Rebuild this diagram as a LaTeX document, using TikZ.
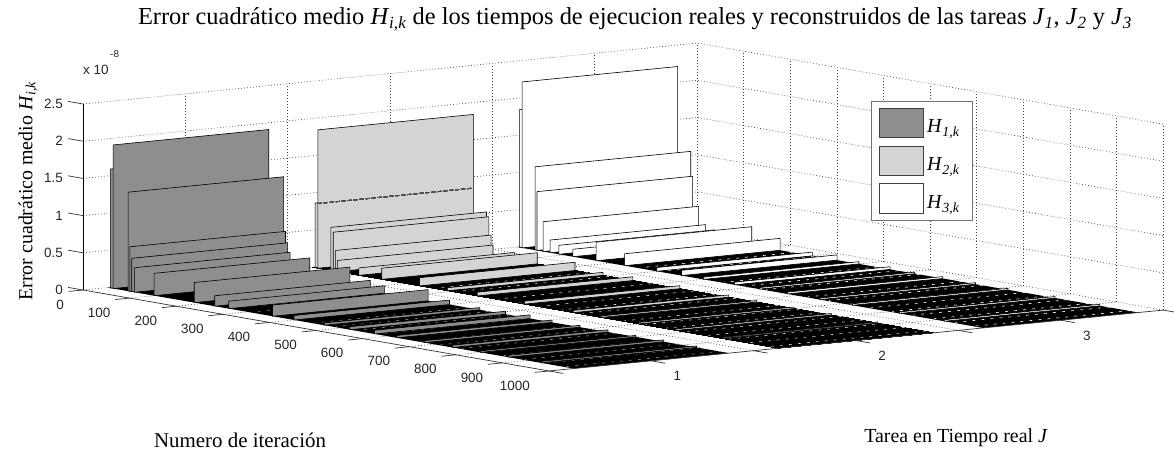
\documentclass[tikz,border=0pt]{standalone}
\usepackage{fontspec}
\setmainfont{Liberation Serif}
\setsansfont{Liberation Sans}
\definecolor{barone}{RGB}{142,142,142}
\definecolor{bartwo}{RGB}{212,212,212}
\definecolor{barthree}{RGB}{255,255,255}
\tikzset{
  gridline/.style={line width=0.6bp,dash pattern=on 0.8bp off 2.2bp,black!75},
  sheetedge/.style={draw=black,line width=0.6bp,line join=round},
  floordash/.style={line width=0.6bp,dash pattern=on 3bp off 6bp},
  axisline/.style={line width=0.7bp,black!80},
  ticklabel/.style={font=\sffamily\fontsize{13.5}{15}\selectfont,inner sep=0pt,black!85},
  axislabel/.style={font=\fontsize{20}{24}\selectfont,inner sep=0pt},
}
\newcommand{\Hsub}[2]{\textit{#1}\textsubscript{\textit{#2}}}
% one bar of the plot: colour, task, iteration, height
\newcommand{\barsheet}[4]{\filldraw[sheetedge,fill=#1] (#3,#2-0.38,0) -- (#3,#2+0.38,0) -- (#3,#2+0.38,#4) -- (#3,#2-0.38,#4) -- cycle;}
\begin{document}
\begin{tikzpicture}[x=1bp,y=-1bp]
  \useasboundingbox (0,0) rectangle (1174,455);
  \begin{scope}[shift={(-19.35,300.15)},x={(0.466bp,-0.081bp)},y={(204.7bp,20.3bp)},z={(0bp,74.4bp)}]
    % walls and floor grid
    \foreach \h in {0,0.5,...,2.5}
      \draw[gridline] (0,0.5,\h) -- (0,3.5,\h) -- (1000,3.5,\h);
    \foreach \t in {1,1.5,...,3.5}
      \draw[gridline] (0,\t,0) -- (0,\t,2.5);
    \foreach \k in {100,200,...,1000}
      \draw[gridline] (\k,3.5,0) -- (\k,3.5,2.5);
    \foreach \t in {1,1.5,...,3}
      \draw[gridline] (0,\t,0) -- (1000,\t,0);
    \foreach \k in {100,200,...,900}
      \draw[gridline] (\k,0.5,0) -- (\k,3.5,0);
    % task 3
    \fill[black] (0,2.62,0) -- (1000,2.62,0) -- (1000,3.38,0) -- (0,3.38,0) -- cycle;
    \foreach \k in {265,310,...,990}
      \draw[floordash,barthree,dash phase=\k] (\k,2.62,0.01) -- (\k,3.38,0.01);
    \foreach \k/\h in {5/1.85,11/2.23,39/1.12,43/0.79,56/0.40,71/0.17,90/0.12,120/0.1,170/0.25,231/0.16,300/0.05,353/0.07,400/0.03,467/0.035,520/0.02,580/0.025,650/0.02,720/0.02,821/0.02,917/0.02}
      \barsheet{barthree}{3}{\k}{\h}
    % task 2
    \fill[black] (0,1.62,0) -- (1000,1.62,0) -- (1000,2.38,0) -- (0,2.38,0) -- cycle;
    \foreach \k in {265,310,...,990}
      \draw[floordash,bartwo,dash phase=\k] (\k,1.62,0.01) -- (\k,2.38,0.01);
    \foreach \k/\h in {6/0.87,12/1.86,40/0.58,45/0.52,50/0.28,54/0.15,100/0.1,149/0.15,230/0.11,290/0.04,354/0.05,455/0.04,560/0.03,620/0.02,700/0.02,780/0.02,880/0.015}
      \barsheet{bartwo}{2}{\k}{\h}
    \draw[black!70,line width=0.8bp,dash pattern=on 4bp off 2bp] (12,1.62,0.87) -- (12,2.38,0.87);
    % task 1
    \fill[black] (0,0.62,0) -- (1000,0.62,0) -- (1000,1.38,0) -- (0,1.38,0) -- cycle;
    \foreach \k in {265,310,...,990}
      \draw[floordash,barone,dash phase=\k] (\k,0.62,0.01) -- (\k,1.38,0.01);
    \foreach \k/\h in {6/1.6,12/1.93,44/1.33,48/0.6,52/0.45,58/0.33,100/0.3,186/0.27,230/0.14,260/0.1,354/0.15,400/0.06,465/0.03,520/0.04,573/0.05,620/0.03,680/0.025,740/0.03,800/0.02,860/0.025,930/0.02}
      \barsheet{barone}{1}{\k}{\h}
    % axes
    \draw[line width=0.7bp] (0,0.5,0) -- (0,0.5,2.5);
    \draw[axisline] (0,0.5,0) -- (1000,0.5,0) -- (1000,3.5,0);
    \foreach \h in {0,0.5,...,2.5}
      \draw[axisline] (0,0.5,\h) -- (-32,0.5,\h);
    \foreach \k in {0,100,...,1000}
      \draw[axisline] (\k,0.5,0) -- (\k,0.43,0);
    \foreach \t in {0.5,1,...,3.5}
      \draw[axisline] (1000,\t,0) -- (1030,\t,0);
    % tick labels
    \foreach \h in {0,0.5,1,1.5,2,2.5}
      \node[ticklabel,anchor=east,xshift=-20bp] (z\h) at (0,0.5,\h) {\h};
    \foreach \k in {0,100,...,1000}
      \node[ticklabel,anchor=east,xshift=-19bp,yshift=-14.5bp] (it\k) at (\k,0.5,0) {\k};
    \foreach \t in {1,2,3}
      \node[ticklabel,xshift=26bp,yshift=-15.5bp] (task\t) at (1000,\t,0) {\t};
  \end{scope}
  % exponent
  \node[ticklabel,anchor=west] (expo) at (83,70) {x 10};
  \node[ticklabel,font=\sffamily\fontsize{10}{12}\selectfont,anchor=west] (expsup) at (110,54) {-8};
  % titles
  \node[axislabel,font=\fontsize{24.5}{28}\selectfont,anchor=base] (title) at (635,25) {Error cuadrático medio \Hsub{H}{i,k} de los tiempos de ejecucion reales y reconstruidos de las tareas \Hsub{J}{1}, \Hsub{J}{2} y \Hsub{J}{3}};
  \node[axislabel,rotate=90] (zlabel) at (28,191) {Error cuadrático medio \Hsub{H}{i,k}};
  \node[axislabel,font=\fontsize{21}{25}\selectfont] (itlabel) at (240,440) {Numero de iteración};
  \node[axislabel,anchor=base] (tasklabel) at (956,443) {Tarea en Tiempo real \textit{J}};
  % legend
  \draw[draw=black!55,fill=white,line width=0.9bp] (871,101) rectangle (972,220);
  \filldraw[fill=barone,draw=black!75,line width=0.8bp] (879,108) rectangle (923,137);
  \filldraw[fill=bartwo,draw=black!75,line width=0.8bp] (879,146) rectangle (923,175);
  \filldraw[fill=barthree,draw=black!75,line width=0.8bp] (879,183) rectangle (923,213);
  \node[axislabel,anchor=base west] (leg1) at (927,133) {\Hsub{H}{1,k}};
  \node[axislabel,anchor=base west] (leg2) at (927,171) {\Hsub{H}{2,k}};
  \node[axislabel,anchor=base west] (leg3) at (927,209) {\Hsub{H}{3,k}};
\end{tikzpicture}
\end{document}
